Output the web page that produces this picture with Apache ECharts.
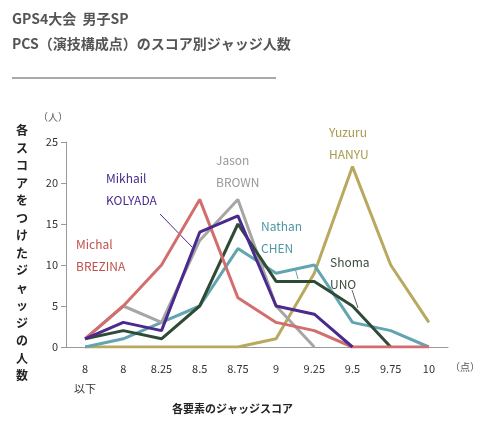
<!DOCTYPE html><html><head><meta charset="utf-8"><script src="https://cdn.jsdelivr.net/npm/echarts@6/dist/echarts.min.js"></script></head><body style="margin:0"><div id="c" style="width:482px;height:432px"></div><script>
const categories=['8\n以下','8','8.25','8.5','8.75','9','9.25','9.5','9.75','10'];
const brezina=[1,5,10,18,6,3,2,0,0,0];
const kolyada=[1,3,2,14,16,5,4,0,null,null];
const brown=[1,5,3,13,18,5,0,null,null,null];
const chen=[0,1,3,5,12,9,10,3,2,0];
const uno=[1,2,1,5,15,8,8,5,0,null];
const hanyu=[0,0,0,0,0,1,9,22,10,3];
const yTicks=[0,5,10,15,20,25];
const f='"Noto Sans CJK JP", sans-serif';
function s(name,data,color,z){return {name,type:'line',data,symbol:'none',z:z,lineStyle:{color,width:3},connectNulls:false};}
const c=echarts.init(document.getElementById('c'));
const t=(x,y,txt,col,size,w)=>({type:'text',left:x,top:y,style:{text:txt,fill:col,font:(w||'normal')+' '+(size||12)+'px '+f}});
c.setOption({
animation:false,
grid:{left:66,right:34,top:142,bottom:85},
xAxis:{type:'category',data:categories,boundaryGap:true,axisLine:{lineStyle:{color:'#999'}},axisTick:{lineStyle:{color:'#999'}},axisLabel:{color:'#333',fontSize:11,fontFamily:f,margin:12,lineHeight:20,verticalAlign:'top'}},
yAxis:{type:'value',min:0,max:25,interval:5,axisLine:{show:true,lineStyle:{color:'#999'}},axisTick:{show:true,lineStyle:{color:'#999'}},splitLine:{show:false},axisLabel:{color:'#333',fontSize:11,fontFamily:f,formatter:v=>yTicks.includes(v)?String(v):''}},
series:[s('Hanyu',hanyu,'#b8a95e',2),s('Chen',chen,'#62a4b0',3),s('Brown',brown,'#a6a6a6',4),s('Uno',uno,'#2f4a35',5),s('Brezina',brezina,'#d36e6e',6),s('Kolyada',kolyada,'#4a2a8c',7)],
graphic:[
t(12,12,'GPS4大会  男子SP','#555',14,'bold'),
t(12,37,'PCS（演技構成点）のスコア別ジャッジ人数','#555',14,'bold'),
{type:'line',shape:{x1:12,y1:78,x2:276,y2:78},style:{stroke:'#aaa',lineWidth:2}},
{type:'text',left:16,top:122,style:{text:'各\nス\nコ\nア\nを\nつ\nけ\nた\nジ\nャ\nッ\nジ\nの\n人\n数',fill:'#222',font:'bold 12px '+f,lineHeight:17.5}},
t(38,112,'（人）','#555',10),
t(450,362,'（点）','#555',10),
t(172,403,'各要素のジャッジスコア','#222',11,'bold'),
t(76,238,'Michal','#c0504d',12),t(76,260,'BREZINA','#c0504d',12),
t(106,172,'Mikhail','#4a2a8c',12),t(106,194,'KOLYADA','#4a2a8c',12),
t(216,154,'Jason','#999',12),t(216,176,'BROWN','#999',12),
t(261,220,'Nathan','#4f98a4',12),t(261,242,'CHEN','#4f98a4',12),
t(329,126,'Yuzuru','#a89a4c',12),t(329,148,'HANYU','#a89a4c',12),
t(330,256,'Shoma','#3b4a3e',12),t(330,278,'UNO','#3b4a3e',12),
{type:'line',shape:{x1:160,y1:214,x2:192,y2:247},style:{stroke:'#4a2a8c',lineWidth:1}},
{type:'line',shape:{x1:295,y1:268,x2:298,y2:279},style:{stroke:'#62a4b0',lineWidth:1}},
{type:'line',shape:{x1:352,y1:290,x2:358,y2:308},style:{stroke:'#666',lineWidth:1}}
]});
</script></body></html>
